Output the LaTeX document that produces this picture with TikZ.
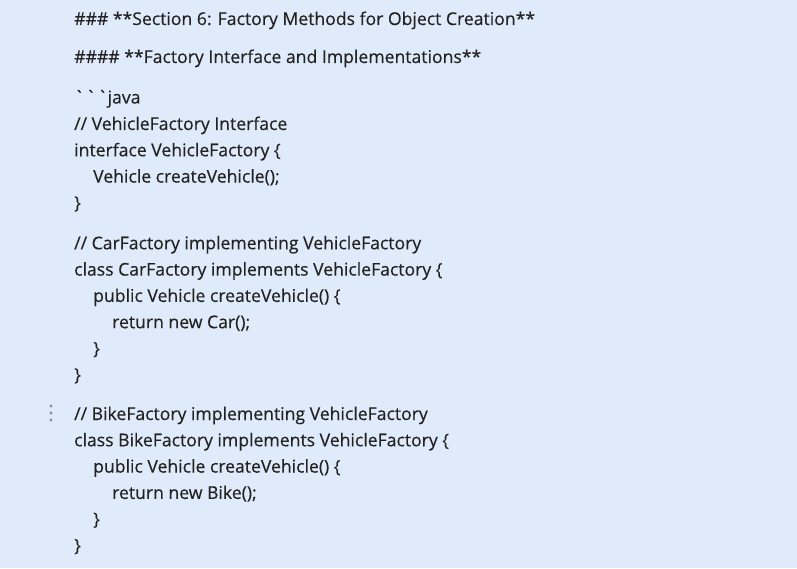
\documentclass[tikz,border=0pt]{standalone}
\usepackage{fontspec}
\setmainfont{Open Sans}[FakeBold=0.3]
\definecolor{bgc}{HTML}{DFEBFA}
\definecolor{txt}{HTML}{222222}
\definecolor{dotc}{HTML}{8A8E94}
\tikzset{
  ln/.style={anchor=base west, inner sep=0pt, text=txt, font=\fontsize{17.6pt}{20pt}\selectfont},
  dotstyle/.style={circle, fill=dotc, inner sep=0pt, minimum size=3.2pt}
}
\begin{document}
\begin{tikzpicture}[x=1pt,y=1pt]
\fill[bgc] (0,0) rectangle (797,568);
\useasboundingbox (0,0) rectangle (797,568);
\node[ln] (h1) at (74,{568-25}) {\#\#\# **Section 6: Factory Methods for Object Creation**};
\node[ln] (h2) at (74,{568-63}) {\#\#\#\# **Factory Interface and Implementations**};
\node[ln] (j0) at (74,{568-103.5}) {\textasciigrave\kern1.5pt\textasciigrave\kern1.5pt\textasciigrave java};
\node[ln] (a1) at (74,{568-130}) {// VehicleFactory Interface};
\node[ln] (a2) at (74,{568-156.3}) {interface VehicleFactory \{};
\node[ln] (a3) at (93,{568-182.6}) {Vehicle createVehicle();};
\node[ln] (a4) at (74,{568-208.9}) {\}};
\node[ln] (b1) at (74,{568-249.3}) {// CarFactory implementing VehicleFactory};
\node[ln] (b2) at (74,{568-275.6}) {class CarFactory implements VehicleFactory \{};
\node[ln] (b3) at (93,{568-301.9}) {public Vehicle createVehicle() \{};
\node[ln] (b4) at (112,{568-328.2}) {return new Car();};
\node[ln] (b5) at (93,{568-354.5}) {\}};
\node[ln] (b6) at (74,{568-380.8}) {\}};
\node[ln] (c1) at (74,{568-420}) {// BikeFactory implementing VehicleFactory};
\node[ln] (c2) at (74,{568-446.3}) {class BikeFactory implements VehicleFactory \{};
\node[ln] (c3) at (93,{568-472.6}) {public Vehicle createVehicle() \{};
\node[ln] (c4) at (112,{568-498.9}) {return new Bike();};
\node[ln] (c5) at (93,{568-525.2}) {\}};
\node[ln] (c6) at (74,{568-551.5}) {\}};
\node[dotstyle] (d1) at (51,{568-406}) {};
\node[dotstyle] (d2) at (51,{568-413}) {};
\node[dotstyle] (d3) at (51,{568-420}) {};
\end{tikzpicture}
\end{document}
